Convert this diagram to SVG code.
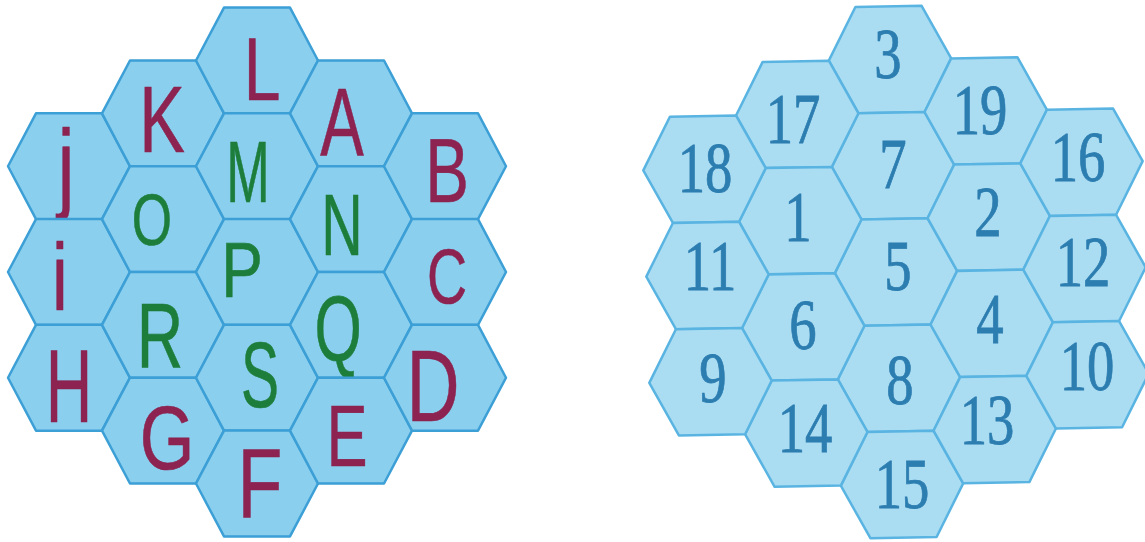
<svg xmlns="http://www.w3.org/2000/svg" xmlns:xlink="http://www.w3.org/1999/xlink" width="1145" height="542" viewBox="0 0 1145 542">
<style>
.hl{fill:#8bcfee;stroke:#3c9fd6;stroke-width:2.5;stroke-linejoin:round}
.hr{fill:#aadcf2;stroke:#5ab4e2;stroke-width:2.5;stroke-linejoin:round}
.mr{fill:#8c2350;stroke:#8c2350;stroke-width:0.6;font-family:"Liberation Sans",Arial,sans-serif;text-anchor:middle}
.gr{fill:#1d7d3b;stroke:#1d7d3b;stroke-width:0.6;font-family:"Liberation Sans",Arial,sans-serif;text-anchor:middle}
.num{fill:#2c7db0;stroke:#2c7db0;stroke-width:0.8;font-family:"Liberation Serif","Times New Roman",serif;font-size:72px;text-anchor:middle}
</style>
<defs>
<polygon id="hexL" points="-61,0 -33,-52.9 33,-52.9 61,0 33,52.9 -33,52.9"/>
<polygon id="hexR" points="-61.2,1.1 -34.6,-52.5 31.6,-53.7 61.2,-1.1 34.6,52.5 -31.6,53.7"/>
</defs>
<rect width="1145" height="542" fill="#ffffff"/>
<g id="letters-grid">
<g id="hex-J"><use href="#hexL" class="hl" x="69" y="166.25"/><text class="mr" style="font-size:100px" transform="translate(66,200) scale(0.75,1)">j</text></g>
<g id="hex-i"><use href="#hexL" class="hl" x="69" y="272"/><text class="mr" style="font-size:95px" transform="translate(60,310) scale(0.75,1)">i</text></g>
<g id="hex-H"><use href="#hexL" class="hl" x="69" y="377.75"/><text class="mr" style="font-size:104px" transform="translate(69,422) scale(0.62,1)">H</text></g>
<g id="hex-K"><use href="#hexL" class="hl" x="163" y="113.4"/><text class="mr" style="font-size:95px" transform="translate(162,152) scale(0.72,1)">K</text></g>
<g id="hex-O"><use href="#hexL" class="hl" x="163" y="219.1"/><text class="gr" style="font-size:72px" transform="translate(152,245) scale(0.72,1)">O</text></g>
<g id="hex-R"><use href="#hexL" class="hl" x="163" y="324.9"/><text class="gr" style="font-size:92px" transform="translate(160,368) scale(0.7,1)">R</text></g>
<g id="hex-G"><use href="#hexL" class="hl" x="163" y="430.6"/><text class="mr" style="font-size:90px" transform="translate(167,469) scale(0.78,1)">G</text></g>
<g id="hex-L"><use href="#hexL" class="hl" x="257" y="60.5"/><text class="mr" style="font-size:88px" transform="translate(262,100) scale(0.75,1)">L</text></g>
<g id="hex-M"><use href="#hexL" class="hl" x="257" y="166.25"/><text class="gr" style="font-size:87px" transform="translate(248,202) scale(0.6,1)">M</text></g>
<g id="hex-P"><use href="#hexL" class="hl" x="257" y="272"/><text class="gr" style="font-size:78px" transform="translate(242,297) scale(0.8,1)">P</text></g>
<g id="hex-S"><use href="#hexL" class="hl" x="257" y="377.75"/><text class="gr" style="font-size:92px" transform="translate(260,407) scale(0.62,1)">S</text></g>
<g id="hex-F"><use href="#hexL" class="hl" x="257" y="483.5"/><text class="mr" style="font-size:98px" transform="translate(260,517) scale(0.75,1)">F</text></g>
<g id="hex-A"><use href="#hexL" class="hl" x="351" y="113.4"/><text class="mr" style="font-size:96px" transform="translate(342,155) scale(0.68,1)">A</text></g>
<g id="hex-N"><use href="#hexL" class="hl" x="351" y="219.1"/><text class="gr" style="font-size:87px" transform="translate(342,255) scale(0.66,1)">N</text></g>
<g id="hex-Q"><use href="#hexL" class="hl" x="351" y="324.9"/><text class="gr" style="font-size:92px" transform="translate(338,360) scale(0.66,1)">Q</text></g>
<g id="hex-E"><use href="#hexL" class="hl" x="351" y="430.6"/><text class="mr" style="font-size:88px" transform="translate(347,466) scale(0.7,1)">E</text></g>
<g id="hex-B"><use href="#hexL" class="hl" x="445" y="166.25"/><text class="mr" style="font-size:91px" transform="translate(447,202) scale(0.72,1)">B</text></g>
<g id="hex-C"><use href="#hexL" class="hl" x="445" y="272"/><text class="mr" style="font-size:77px" transform="translate(447,303) scale(0.72,1)">C</text></g>
<g id="hex-D"><use href="#hexL" class="hl" x="445" y="377.75"/><text class="mr" style="font-size:102px" transform="translate(433,421) scale(0.72,1)">D</text></g>
</g>
<g id="numbers-grid">
<g id="hex-3"><use href="#hexR" class="hr" x="890" y="59.5"/><text class="num" transform="translate(888,78) scale(0.76,1)">3</text></g>
<g id="hex-7"><use href="#hexR" class="hr" x="893" y="165.75"/><text class="num" transform="translate(893,188) scale(0.76,1)">7</text></g>
<g id="hex-5"><use href="#hexR" class="hr" x="896" y="272"/><text class="num" transform="translate(898,290) scale(0.76,1)">5</text></g>
<g id="hex-8"><use href="#hexR" class="hr" x="899" y="378.25"/><text class="num" transform="translate(900,404) scale(0.76,1)">8</text></g>
<g id="hex-15"><use href="#hexR" class="hr" x="902" y="484.5"/><text class="num" transform="translate(902,508) scale(0.76,1)">15</text></g>
<g id="hex-17"><use href="#hexR" class="hr" x="797.25" y="114.4"/><text class="num" transform="translate(793,143) scale(0.76,1)">17</text></g>
<g id="hex-1"><use href="#hexR" class="hr" x="800.25" y="220.6"/><text class="num" transform="translate(798,241) scale(0.76,1)">1</text></g>
<g id="hex-6"><use href="#hexR" class="hr" x="803.25" y="326.9"/><text class="num" transform="translate(803,349) scale(0.76,1)">6</text></g>
<g id="hex-14"><use href="#hexR" class="hr" x="806.25" y="433.1"/><text class="num" transform="translate(805,452) scale(0.76,1)">14</text></g>
<g id="hex-19"><use href="#hexR" class="hr" x="985.75" y="110.9"/><text class="num" transform="translate(980,134) scale(0.76,1)">19</text></g>
<g id="hex-2"><use href="#hexR" class="hr" x="988.75" y="217.1"/><text class="num" transform="translate(988,236) scale(0.76,1)">2</text></g>
<g id="hex-4"><use href="#hexR" class="hr" x="991.75" y="323.4"/><text class="num" transform="translate(990,343) scale(0.76,1)">4</text></g>
<g id="hex-13"><use href="#hexR" class="hr" x="994.75" y="429.6"/><text class="num" transform="translate(987,444) scale(0.76,1)">13</text></g>
<g id="hex-18"><use href="#hexR" class="hr" x="704.5" y="169.25"/><text class="num" transform="translate(705,192) scale(0.76,1)">18</text></g>
<g id="hex-11"><use href="#hexR" class="hr" x="707.5" y="275.5"/><text class="num" transform="translate(710,290) scale(0.76,1)">11</text></g>
<g id="hex-9"><use href="#hexR" class="hr" x="710.5" y="381.75"/><text class="num" transform="translate(713,402) scale(0.76,1)">9</text></g>
<g id="hex-16"><use href="#hexR" class="hr" x="1081.5" y="162.25"/><text class="num" transform="translate(1078,181) scale(0.76,1)">16</text></g>
<g id="hex-12"><use href="#hexR" class="hr" x="1084.5" y="268.5"/><text class="num" transform="translate(1083,286) scale(0.76,1)">12</text></g>
<g id="hex-10"><use href="#hexR" class="hr" x="1087.5" y="374.75"/><text class="num" transform="translate(1087,390) scale(0.76,1)">10</text></g>
</g>
</svg>
